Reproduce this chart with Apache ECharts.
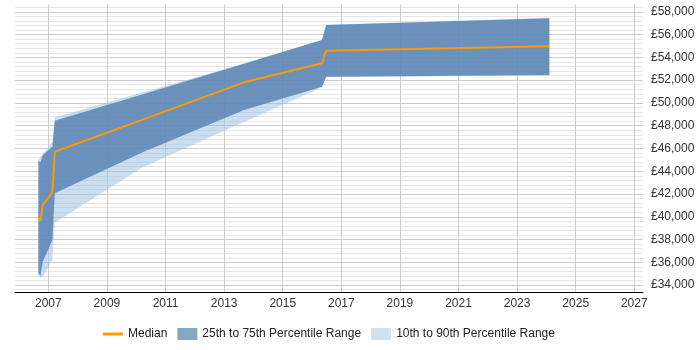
<!DOCTYPE html>
<html>
<head>
<meta charset="utf-8">
<script src="https://cdn.jsdelivr.net/npm/echarts@6/dist/echarts.min.js"></script>
<style>
  html, body { margin: 0; padding: 0; background: #fff; }
  #chart { width: 700px; height: 350px; }
</style>
</head>
<body>
<div id="chart"></div>
<script>
// decimal years of each data point
const years = [2006.66, 2006.73, 2006.81, 2007.14, 2007.22, 2010.2, 2013.68, 2016.34, 2016.48, 2024.1];
const median = [39960, 39660, 41040, 42150, 45720, 48510, 51810, 53480, 54590, 54980];
const p25 = [35040, 34800, 36060, 37960, 42060, 45650, 49380, 51420, 52300, 52450];
const p75 = [44930, 44790, 45430, 46160, 48440, 50750, 53440, 55520, 56840, 57430];
const p10 = [34900, 34600, 34740, 36200, 39480, 44330, 48330, 51380, 52250, 52400];
const p90 = [44930, 45280, 45520, 46600, 48740, 50920, 53460, 55540, 56870, 57480];

const xTicks = [2007, 2009, 2011, 2013, 2015, 2017, 2019, 2021, 2023, 2025, 2027];
const yLabels = [34000, 36000, 38000, 40000, 42000, 44000, 46000, 48000, 50000, 52000, 54000, 56000, 58000];

// horizontal grid every 400, darker every 2000
const yGrid = [];
for (let v = 33600; v <= 58400; v += 400) yGrid.push(v);

const FONT = "'Liberation Sans', Arial, sans-serif";

// one polygon per band: upper edge forward, lower edge back
function bandSeries(name, lo, hi, fill, legendColor, z) {
    return {
        name: name,
        type: 'custom',
        z: z,
        silent: true,
        itemStyle: { color: legendColor },
        data: years.map((y, i) => [y, lo[i], hi[i]]),
        encode: { x: 0, y: [1, 2] },
        renderItem: (params, api) => {
            if (params.dataIndex !== 0) return null;
            const pts = [];
            for (let i = 0; i < years.length; i++) pts.push(api.coord([years[i], hi[i]]));
            for (let i = years.length - 1; i >= 0; i--) pts.push(api.coord([years[i], lo[i]]));
            return {
                type: 'polygon',
                shape: { points: pts },
                style: { fill: fill, stroke: null }
            };
        }
    };
}

const chart = echarts.init(document.getElementById('chart'));

const option = {
    animation: false,
    textStyle: { fontFamily: FONT },
    grid: { left: 15, right: 57, top: 5, bottom: 58 },
    legend: {
        top: 323,
        left: 98,
        itemWidth: 20,
        itemHeight: 12,
        itemGap: 10,
        textStyle: { fontFamily: FONT, fontSize: 12, color: '#222' },
        data: [
            { name: 'Median', icon: 'path://M0,0 L20,0 L20,3 L0,3 Z', itemStyle: { color: '#ff9900' } },
            { name: '25th to 75th Percentile Range', icon: 'rect', itemStyle: { color: '#87a6c6' } },
            { name: '10th to 90th Percentile Range', icon: 'rect', itemStyle: { color: '#d0e0ef' } }
        ]
    },
    xAxis: {
        type: 'value',
        min: 2005.862,
        max: 2027.297,
        axisLine: { show: true, onZero: false, lineStyle: { color: '#000', width: 1 } },
        axisTick: { show: false, customValues: xTicks },
        axisLabel: {
            customValues: xTicks,
            formatter: (v) => String(v),
            color: '#333',
            fontSize: 12,
            fontFamily: FONT,
            margin: 6
        },
        splitLine: { show: true, lineStyle: { color: '#cccccc', width: 1 } }
    },
    yAxis: {
        type: 'value',
        position: 'right',
        min: 33400,
        max: 58600,
        axisLine: { show: false },
        axisTick: { show: false, customValues: yGrid },
        axisLabel: {
            customValues: yLabels,
            formatter: (v) => '£' + v.toLocaleString('en-GB'),
            color: '#333',
            fontSize: 12,
            fontFamily: FONT,
            margin: 8
        },
        splitLine: {
            show: true,
            lineStyle: {
                width: 1,
                color: ['#e6e6e6', '#cccccc', '#e6e6e6', '#e6e6e6', '#e6e6e6']
            }
        }
    },
    series: [
        bandSeries('10th to 90th Percentile Range', p10, p90, 'rgba(160,195,228,0.55)', '#d0e0ef', 2),
        bandSeries('25th to 75th Percentile Range', p25, p75, 'rgba(83,128,175,0.8)', '#87a6c6', 3),
        {
            name: 'Median',
            type: 'line',
            data: years.map((y, i) => [y, median[i]]),
            symbol: 'none',
            z: 5,
            itemStyle: { color: '#ff9900' },
            lineStyle: { color: '#ff9900', width: 2 }
        }
    ]
};

chart.setOption(option);
</script>
</body>
</html>
